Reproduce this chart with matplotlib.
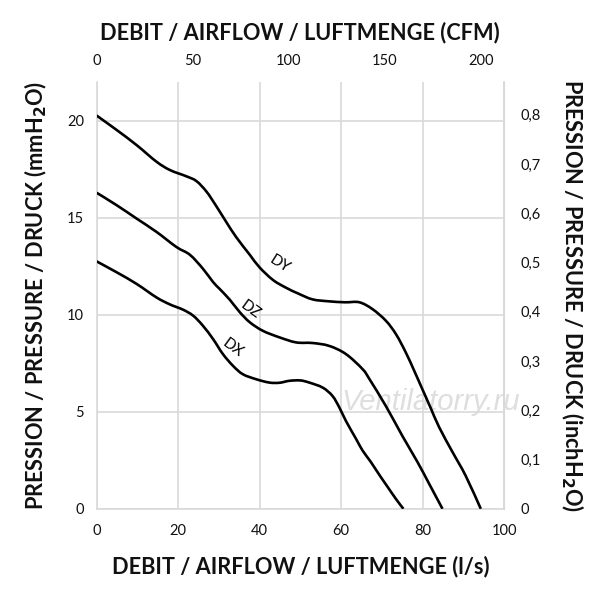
import matplotlib
matplotlib.use("Agg")
import matplotlib.pyplot as plt
from matplotlib.path import Path
from matplotlib.patches import PathPatch
from matplotlib.ticker import FuncFormatter, MultipleLocator

# airflow in l/s, pressure in mmH2O
dy_x = [0, 4.9, 9.8, 14.7, 18, 22, 24.5, 27, 29.4, 31.8, 34.3, 37.6, 40, 43.3, 46.5, 49.5,
        53, 57, 61, 64.5, 67.7, 71, 73.5, 75.9, 78, 80, 82, 84.1, 87.3, 90.6, 94.3]
dy_y = [20.28, 19.54, 18.76, 17.9, 17.47, 17.15, 16.9, 16.35, 15.6, 14.8, 14.0, 13.1, 12.45, 11.8,
        11.4, 11.1, 10.8, 10.7, 10.65, 10.65, 10.3, 9.7, 9.0, 8.06, 7.1, 6.15, 5.2, 4.2, 2.95, 1.7, 0]

dz_x = [0, 4.9, 9.8, 14.7, 19.6, 22.9, 26.1, 28.6, 30.2, 32.7, 35.1, 37.6, 40.8, 44.9, 49, 53,
        57.1, 61.2, 65.3, 67, 71, 75.1, 78.8, 81.6, 84.9]
dz_y = [16.3, 15.66, 14.97, 14.28, 13.5, 13.1, 12.38, 11.69, 11.34, 10.78, 10.15, 9.62, 9.18, 8.84,
        8.58, 8.55, 8.4, 7.98, 7.2, 6.68, 5.3, 3.74, 2.4, 1.3, 0]

dx_x = [0, 4.9, 9.8, 14.7, 18, 21.2, 23.7, 26.1, 28.6, 31, 33.5, 35.9, 39.2, 42.4, 44.9, 47.3,
        50, 52.2, 55.5, 57.9, 59.6, 61.2, 63.7, 65.3, 67.2, 69.4, 71.2, 73.5, 75.3]
dx_y = [12.76, 12.2, 11.6, 10.9, 10.54, 10.27, 9.96, 9.44, 8.75, 7.98, 7.37, 6.94, 6.68, 6.51,
        6.5, 6.6, 6.62, 6.51, 6.25, 5.82, 5.22, 4.53, 3.6, 3.0, 2.45, 1.75, 1.2, 0.5, 0]

curve_names = ["DY", "DZ", "DX"]
label_pos = [(44.9, 12.6, -32), (37.8, 10.25, -36), (33.5, 8.3, -36)]

LS_TO_CFM = 2.119
MM_PER_INCH = 25.4


def smooth_path(xs, ys):
    """Catmull-Rom through the read points, drawn as cubic bezier segments"""
    pts = list(zip(xs, ys))
    verts = [pts[0]]
    codes = [Path.MOVETO]
    for i in range(len(pts) - 1):
        p0 = pts[i - 1] if i > 0 else pts[i]
        p1, p2 = pts[i], pts[i + 1]
        p3 = pts[i + 2] if i + 2 < len(pts) else pts[i + 1]
        c1 = (p1[0] + (p2[0] - p0[0]) / 6, p1[1] + (p2[1] - p0[1]) / 6)
        c2 = (p2[0] - (p3[0] - p1[0]) / 6, p2[1] - (p3[1] - p1[1]) / 6)
        verts += [c1, c2, p2]
        codes += [Path.CURVE4] * 3
    return Path(verts, codes)


plt.rcParams["font.family"] = ["Lato", "DejaVu Sans"]

fig = plt.figure(figsize=(6, 6), dpi=100)
ax = fig.add_axes([0.161, 0.152, 0.679, 0.711])

grid_col = "#d9d9d9"
ax.set_xlim(0, 100)
ax.set_ylim(0, 22)
ax.xaxis.set_major_locator(MultipleLocator(20))
ax.yaxis.set_major_locator(MultipleLocator(5))
ax.grid(True, color=grid_col, linewidth=1.2, zorder=0)
for s in ax.spines.values():
    s.set_color(grid_col)
    s.set_linewidth(1.2)
ax.spines["top"].set_visible(False)
ax.tick_params(length=0, labelsize=10.5, colors="#111111")
ax.tick_params(axis="x", pad=11)
ax.tick_params(axis="y", pad=9)

ax.text(82.0, 5.5, "Ventilatorry.ru", fontsize=21, style="italic",
        family="Liberation Sans", color="#dedede", ha="center", va="center",
        zorder=1, clip_on=False)

for xs, ys in [(dy_x, dy_y), (dz_x, dz_y), (dx_x, dx_y)]:
    ax.add_patch(PathPatch(smooth_path(xs, ys), facecolor="none", edgecolor="black",
                           linewidth=1.9, capstyle="butt", zorder=3))

for name, (lx, ly, rot) in zip(curve_names, label_pos):
    ax.text(lx, ly, name, fontsize=11, rotation=rot, ha="center", va="center",
            rotation_mode="anchor", zorder=4)

top = ax.secondary_xaxis("top", functions=(lambda v: v * LS_TO_CFM, lambda v: v / LS_TO_CFM))
top.set_xticks([0, 50, 100, 150, 200])
top.tick_params(length=0, labelsize=10.5, pad=10, colors="#111111")
top.spines["top"].set_visible(False)

right = ax.secondary_yaxis("right", functions=(lambda v: v / MM_PER_INCH, lambda v: v * MM_PER_INCH))
right.set_yticks([0, 0.1, 0.2, 0.3, 0.4, 0.5, 0.6, 0.7, 0.8])
right.yaxis.set_major_formatter(FuncFormatter(lambda v, p: "0" if v == 0 else f"{v:.1f}".replace(".", ",")))
right.tick_params(length=0, labelsize=10.5, pad=12, colors="#111111")
right.spines["right"].set_color(grid_col)

lab = dict(fontsize=15.7, fontweight="bold", color="#111111")
ax.set_xlabel("DEBIT / AIRFLOW / LUFTMENGE (l/s)", labelpad=13, **lab)
top.set_xlabel("DEBIT / AIRFLOW / LUFTMENGE (CFM)", labelpad=11, **lab)
ax.set_ylabel("PRESSION / PRESSURE / DRUCK (mmH$_\\mathbf{2}$O)", labelpad=13, **lab)
right.set_ylabel("PRESSION / PRESSURE / DRUCK (inchH$_\\mathbf{2}$O)", labelpad=13,
                 rotation=-90, va="bottom", **lab)

fig.savefig("out.png", dpi=100, facecolor="white")
